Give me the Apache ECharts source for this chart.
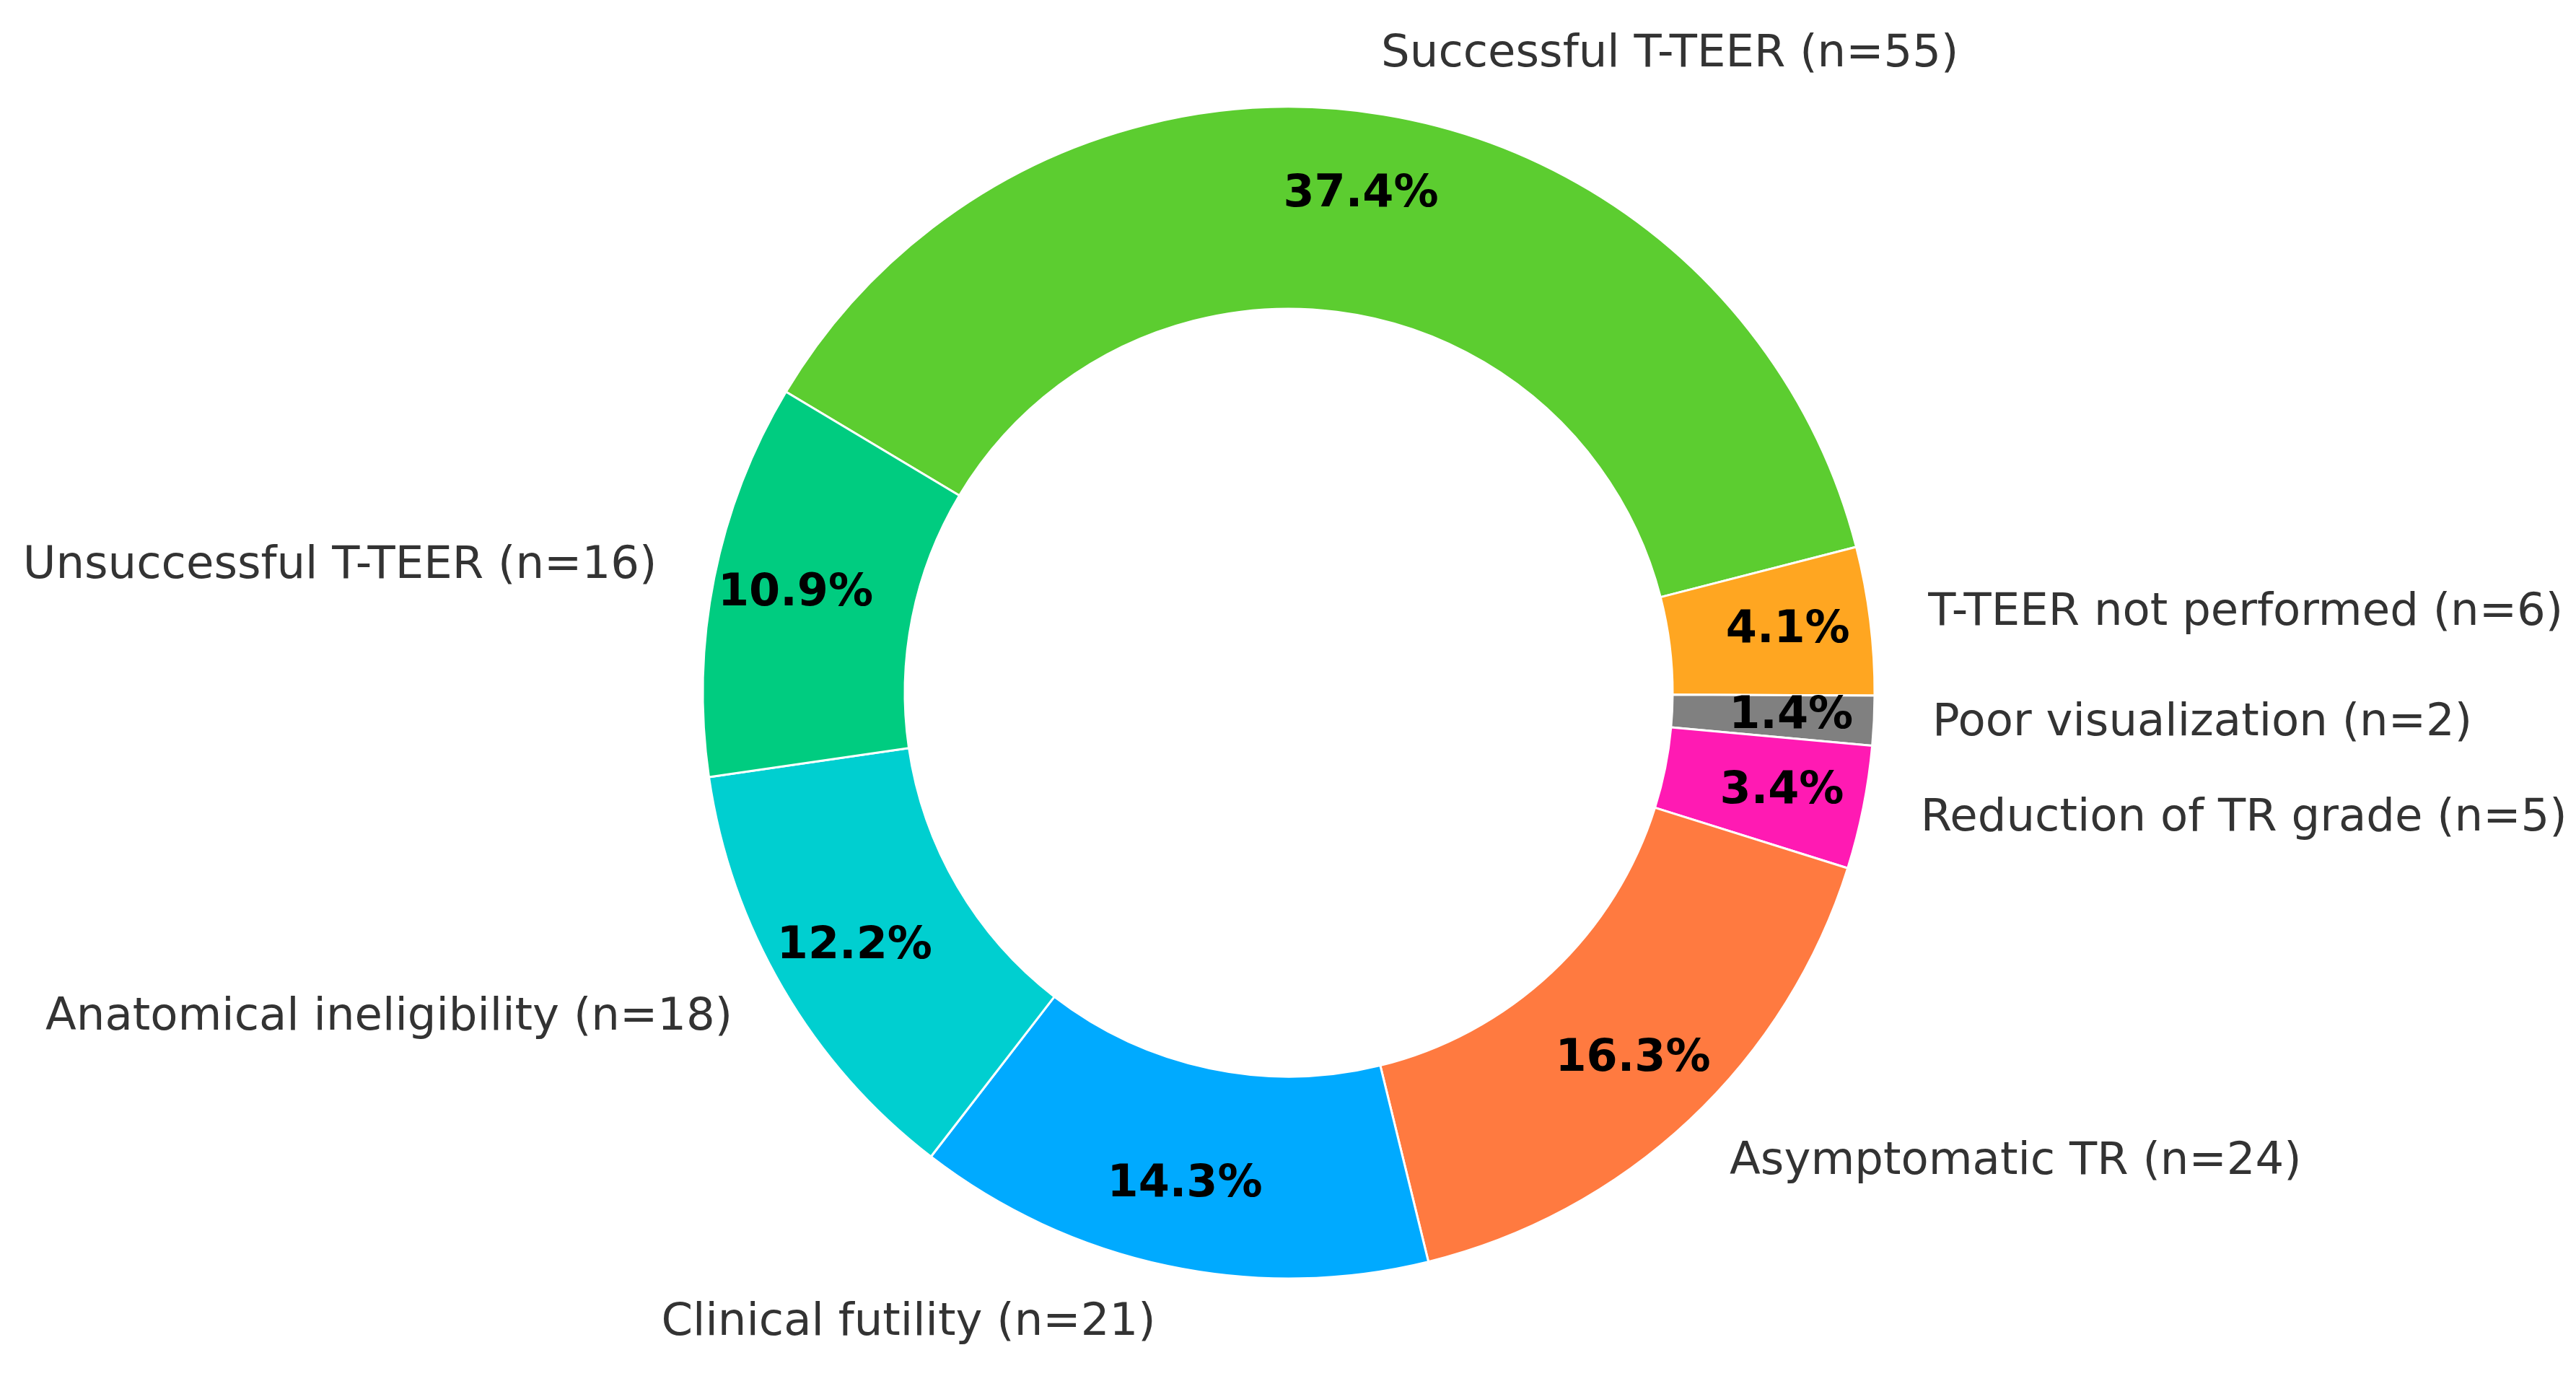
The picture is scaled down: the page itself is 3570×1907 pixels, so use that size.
<!DOCTYPE html>
<html>
<head>
<meta charset="utf-8">
<script src="https://cdn.jsdelivr.net/npm/echarts@6/dist/echarts.min.js"></script>
<style>
html,body{margin:0;padding:0;background:#fff;}
#chart{width:3570px;height:1907px;}
</style>
</head>
<body>
<div id="chart"></div>
<script>
const categories = [
  "Successful T-TEER (n=55)",
  "T-TEER not performed (n=6)",
  "Poor visualization (n=2)",
  "Reduction of TR grade (n=5)",
  "Asymptomatic TR (n=24)",
  "Clinical futility (n=21)",
  "Anatomical ineligibility (n=18)",
  "Unsuccessful T-TEER (n=16)"
];
const counts = [55, 6, 2, 5, 24, 21, 18, 16];
const colors = ["#5ccd30", "#ffa621", "#808080", "#ff1ab3", "#ff7a40", "#00aaff", "#00cfd0", "#00cc80"];

const chart = echarts.init(document.getElementById('chart'));
const R = 812, r0 = 532;
const cx = 1786, cy = 960;
const font = 'DejaVu Sans';

const mainData = categories.map((c, i) => ({ name: c, value: counts[i], itemStyle: { color: colors[i] } }));
const pctData = categories.map((c, i) => ({ name: c, value: counts[i] }));
const total = counts.reduce((a, b) => a + b, 0);

chart.setOption({
  backgroundColor: '#ffffff',
  animation: false,
  series: [
    {
      type: 'pie',
      center: [cx, cy],
      radius: [r0, R],
      startAngle: 149.1,
      clockwise: true,
      avoidLabelOverlap: false,
      silent: true,
      itemStyle: { borderColor: '#ffffff', borderWidth: 3 },
      label: {
        show: true,
        position: 'outside',
        formatter: '{b}',
        fontFamily: font,
        fontSize: 62.5,
        color: '#333333',
        distanceToLabelLine: 0,
        overflow: 'none'
      },
      labelLine: { show: false, length: 81, length2: 0 },
      data: mainData
    },
    {
      type: 'pie',
      center: [cx, cy],
      radius: [576, R],
      startAngle: 149.1,
      clockwise: true,
      avoidLabelOverlap: false,
      silent: true,
      itemStyle: { color: 'rgba(0,0,0,0)', borderWidth: 0 },
      label: {
        show: true,
        position: 'inside',
        formatter: p => (p.value / total * 100).toFixed(1) + '%',
        fontFamily: font,
        fontSize: 62,
        fontWeight: 'bold',
        color: '#000000',
        textBorderWidth: 0
      },
      labelLine: { show: false },
      data: pctData
    }
  ]
});
</script>
</body>
</html>
